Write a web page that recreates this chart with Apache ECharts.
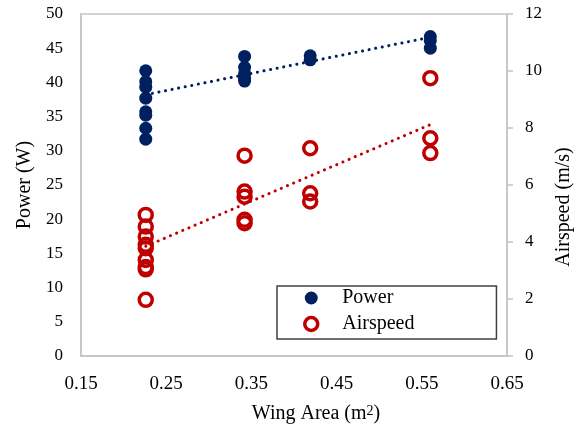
<!DOCTYPE html>
<html><head><meta charset="utf-8">
<script src="https://cdn.jsdelivr.net/npm/echarts@6/dist/echarts.min.js"></script>
<style>html,body{margin:0;padding:0;background:#fff}#c{width:578px;height:424px}</style>
</head><body><div id="c"></div>
<script>
// ---- data ----
const powerArea = [0.226,0.226,0.226,0.226,0.226,0.226,0.226,0.226, 0.342,0.342,0.342,0.342,0.342, 0.419,0.419, 0.560,0.560,0.560];
const powerW    = [41.7,40.1,39.3,37.7,35.7,35.2,33.3,31.7, 43.8,42.2,41.3,40.6,40.2, 43.9,43.3, 46.7,46.1,45.0];
const airArea   = [0.226,0.226,0.226,0.226,0.226,0.226,0.226,0.226,0.226, 0.342,0.342,0.342,0.342,0.342, 0.419,0.419,0.419, 0.560,0.560,0.560];
const airSpeed  = [4.95,4.54,4.19,3.90,3.78,3.37,3.12,3.04,1.97, 7.03,5.77,5.59,4.78,4.66, 7.29,5.71,5.42, 9.75,7.64,7.12];
const powerTrendArea = [0.226, 0.560];
const powerTrendW    = [38.2, 46.6];
const airTrendArea   = [0.226, 0.560];
const airTrendV      = [3.85, 8.12];
const seriesNames = ['Power', 'Airspeed'];

const zip = (a, b) => a.map((v, i) => [v, b[i]]);
const FONT = 'Liberation Serif, Times New Roman, serif';
const NAVY = '#002060', RED = '#C00000', AXIS = '#c4c4c4';

const chart = echarts.init(document.getElementById('c'), null, {renderer: 'canvas'});
chart.setOption({
  animation: false,
  backgroundColor: '#fff',
  grid: {left: 81, right: 71, top: 14, bottom: 68, containLabel: false, outerBoundsMode: 'none',
         show: true, borderColor: AXIS, borderWidth: 1.5},
  legend: {
    orient: 'vertical', left: 277, top: 286,
    padding: [2, 82, 5, 26], itemGap: 6,
    itemWidth: 52, itemHeight: 13,
    borderColor: '#404040', borderWidth: 1.5, backgroundColor: '#fff',
    textStyle: {fontFamily: FONT, fontSize: 20, color: '#000'},
    data: [
      {name: seriesNames[0], itemStyle: {color: NAVY, borderWidth: 0}},
      {name: seriesNames[1], itemStyle: {color: 'rgba(0,0,0,0)', borderColor: RED, borderWidth: 3.5}}
    ]
  },
  xAxis: {
    type: 'value', min: 0.15, max: 0.65, interval: 0.1,
    splitLine: {show: false},
    axisLine: {show: true, lineStyle: {color: AXIS, width: 1.5}},
    axisTick: {show: false},
    axisLabel: {fontFamily: FONT, fontSize: 19, color: '#000', margin: 19, formatter: v => v.toFixed(2)},
    name: 'Wing Area (m{sup|2})', nameLocation: 'middle', nameGap: 48,
    nameTextStyle: {fontFamily: FONT, fontSize: 20, color: '#000', padding: [0, 0, 0, 44],
      rich: {sup: {fontFamily: FONT, fontSize: 14, color: '#000', verticalAlign: 'top'}}}
  },
  yAxis: [{
    type: 'value', min: 0, max: 50, interval: 5,
    splitLine: {show: false},
    axisLine: {show: true, lineStyle: {color: AXIS, width: 1.5}},
    axisTick: {show: false},
    axisLabel: {fontFamily: FONT, fontSize: 17, color: '#000', margin: 18},
    name: 'Power (W)', nameLocation: 'middle', nameRotate: 90, nameGap: 46,
    nameTextStyle: {fontFamily: FONT, fontSize: 20, color: '#000'}
  }, {
    type: 'value', min: 0, max: 12, interval: 2, position: 'right',
    splitLine: {show: false},
    axisLine: {show: true, lineStyle: {color: AXIS, width: 1.5}},
    axisTick: {show: true, inside: false, length: 6, lineStyle: {color: AXIS, width: 1.5}},
    axisLabel: {fontFamily: FONT, fontSize: 17, color: '#000', margin: 18},
    name: 'Airspeed (m/s)', nameLocation: 'middle', nameRotate: 90, nameGap: 47,
    nameTextStyle: {fontFamily: FONT, fontSize: 20, color: '#000', padding: [0, 44, 0, 0]}
  }],
  series: [
    {name: seriesNames[0], type: 'scatter', yAxisIndex: 0, symbol: 'circle', symbolSize: 13,
     itemStyle: {color: NAVY, opacity: 1}, data: zip(powerArea, powerW), z: 3},
    {name: seriesNames[1], type: 'scatter', yAxisIndex: 1, symbol: 'circle', symbolSize: 13,
     itemStyle: {color: 'rgba(0,0,0,0)', borderColor: RED, borderWidth: 3.5, opacity: 1}, data: zip(airArea, airSpeed), z: 3},
    {name: 'Power trend', type: 'line', yAxisIndex: 0, showSymbol: false, silent: true, z: 4,
     lineStyle: {color: NAVY, width: 3, type: [0.1, 6.6], cap: 'round'}, data: zip(powerTrendArea, powerTrendW)},
    {name: 'Airspeed trend', type: 'line', yAxisIndex: 1, showSymbol: false, silent: true, z: 4,
     lineStyle: {color: RED, width: 3, type: [0.1, 6.6], cap: 'round'}, data: zip(airTrendArea, airTrendV)}
  ]
});
</script></body></html>
